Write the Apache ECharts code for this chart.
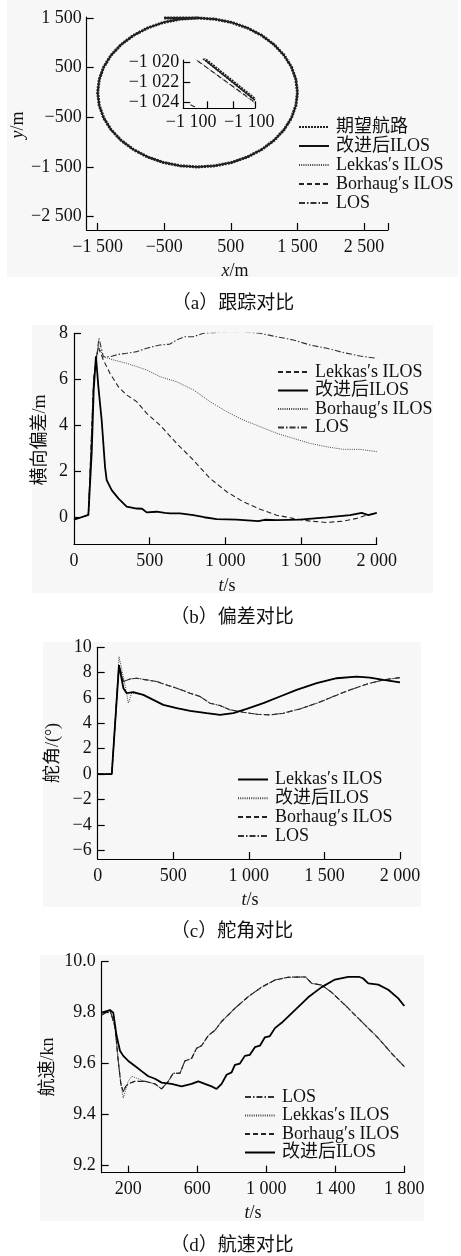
<!DOCTYPE html>
<html><head><meta charset="utf-8">
<script src="https://cdn.jsdelivr.net/npm/echarts@6/dist/echarts.min.js"></script>
<style>html,body{margin:0;padding:0;background:#fff}#c{width:461px;height:1256px}</style>
</head><body><div id="c"></div>
<script>
// ---------- (a) tracking ----------
const trackX = [-500, 0, 260, 513, 750, 964, 1149, 1299, 1410, 1477, 1500, 1477, 1410, 1299, 1149, 964, 750, 513, 260, 0, -260, -513, -750, -964, -1149, -1299, -1410, -1477, -1500, -1477, -1410, -1299, -1149, -964, -750, -513, -260, 0];
const trackY = [1500, 1500, 1477, 1410, 1299, 1149, 964, 750, 513, 260, 0, -260, -513, -750, -964, -1149, -1299, -1410, -1477, -1500, -1477, -1410, -1299, -1149, -964, -750, -513, -260, 0, 260, 513, 750, 964, 1149, 1299, 1410, 1477, 1500];
const aXTicks = [-1500, -500, 500, 1500, 2500];
const aYTicks = [-2500, -1500, -500, 500, 1500];
// inset (zoomed) segment
const insDesX = [0.28, 1.0], insDesY = [-1019.6, -1023.75];
const insImpX = [0.30, 1.0], insImpY = [-1019.8, -1023.85];
const insLekX = [0.17, 1.0], insLekY = [-1019.7, -1024.15];
const insBorX = [0.20, 1.0], insBorY = [-1019.9, -1024.05];
const insLosX = [0.10, 0.20], insLosY = [-1024.3, -1024.65];
const insYTicks = [-1024, -1022, -1020];
const insXLabel = '−1 100';

// ---------- (b) cross-track error ----------
const bImpT = [0, 50, 95, 101, 117, 130, 145, 161, 183, 205, 216, 249, 293, 348, 414, 450, 480, 546, 600, 634, 700, 789, 860, 943, 1075, 1218, 1260, 1339, 1493, 1670, 1824, 1901, 1945, 2000];
const bImpV = [-0.12, -0.02, 0.08, 0.1, 2.8, 5.5, 7.0, 5.67, 4.2, 2.18, 1.6, 1.16, 0.8, 0.44, 0.36, 0.35, 0.19, 0.22, 0.17, 0.15, 0.15, 0.07, -0.02, -0.1, -0.12, -0.19, -0.13, -0.15, -0.12, -0.03, 0.07, 0.17, 0.07, 0.17];
const bLekT = [0, 95, 101, 130, 160, 194, 238, 293, 348, 414, 480, 568, 678, 789, 899, 1009, 1119, 1229, 1339, 1449, 1559, 1670, 1780, 1868, 1934, 2000];
const bLekV = [-0.12, 0.08, 0.1, 6.0, 7.4, 6.84, 6.25, 5.67, 5.31, 5.02, 4.51, 4.0, 3.2, 2.47, 1.67, 1.09, 0.65, 0.33, 0.07, -0.07, -0.19, -0.25, -0.19, -0.07, 0.07, 0.17];
const bBorT = [0, 95, 101, 130, 160, 194, 260, 348, 414, 480, 568, 678, 789, 899, 1009, 1119, 1229, 1339, 1449, 1559, 1670, 1780, 1890, 2000];
const bBorV = [-0.12, 0.08, 0.1, 6.0, 7.5, 6.98, 6.84, 6.69, 6.55, 6.4, 6.11, 5.89, 5.53, 5.02, 4.58, 4.22, 3.93, 3.64, 3.42, 3.2, 3.05, 2.94, 2.94, 2.84];
const bLosT = [0, 95, 101, 130, 165, 194, 238, 293, 348, 414, 480, 568, 634, 678, 733, 789, 855, 921, 1009, 1119, 1229, 1339, 1449, 1559, 1670, 1780, 1890, 2000];
const bLosV = [-0.12, 0.08, 0.1, 6.0, 7.78, 6.98, 6.98, 7.08, 7.13, 7.2, 7.35, 7.49, 7.53, 7.71, 7.85, 7.85, 8.0, 8.03, 8.07, 8.07, 8.0, 7.85, 7.71, 7.49, 7.35, 7.16, 7.01, 6.91];
const bYTicks = [0, 2, 4, 6, 8];

// ---------- (c) rudder angle ----------
const cLekT = [0, 93, 141, 170, 192, 236, 302, 368, 434, 523, 611, 721, 809, 897, 986, 1096, 1206, 1316, 1449, 1581, 1713, 1801, 1890, 2000];
const cLekV = [0, 0, 8.6, 6.77, 6.38, 6.46, 6.25, 5.85, 5.46, 5.2, 4.99, 4.8, 4.67, 4.8, 5.14, 5.59, 6.12, 6.64, 7.17, 7.56, 7.69, 7.61, 7.43, 7.24];
const cImpT = [0, 93, 141, 176, 203, 225, 236, 302, 368, 434, 523, 611, 721, 809, 897, 986, 1096, 1206, 1316, 1449, 1581, 1713, 1801, 1890, 2000];
const cImpV = [0, 0, 9.27, 7.3, 5.59, 6.4, 6.46, 6.25, 5.85, 5.46, 5.2, 4.99, 4.8, 4.67, 4.8, 5.14, 5.59, 6.12, 6.64, 7.17, 7.56, 7.69, 7.61, 7.43, 7.24];
const cLosT = [0, 93, 141, 170, 214, 258, 324, 390, 456, 523, 611, 677, 743, 809, 875, 964, 1052, 1140, 1228, 1338, 1449, 1559, 1669, 1779, 1890, 2000];
const cLosV = [0, 0, 8.6, 7.3, 7.5, 7.56, 7.43, 7.3, 7.03, 6.77, 6.38, 6.12, 5.59, 5.41, 5.07, 4.88, 4.72, 4.67, 4.8, 5.14, 5.59, 6.12, 6.64, 7.09, 7.43, 7.61];
const cYTicks = [-6, -4, -2, 0, 2, 4, 6, 8, 10];

// ---------- (d) speed ----------
const dImpT = [46, 94, 103, 113, 132, 152, 171, 200, 239, 277, 316, 355, 393, 451, 509, 567, 606, 644, 683, 712, 741, 770, 799, 818, 847, 876, 905, 934, 963, 992, 1021, 1050, 1089, 1166, 1243, 1321, 1398, 1475, 1540, 1560, 1591, 1649, 1707, 1765, 1800];
const dImpV = [9.80, 9.81, 9.815, 9.80, 9.71, 9.65, 9.63, 9.61, 9.59, 9.57, 9.55, 9.54, 9.525, 9.52, 9.51, 9.52, 9.53, 9.52, 9.51, 9.50, 9.52, 9.556, 9.565, 9.595, 9.60, 9.63, 9.634, 9.664, 9.67, 9.703, 9.708, 9.739, 9.76, 9.81, 9.86, 9.90, 9.93, 9.94, 9.94, 9.935, 9.915, 9.91, 9.89, 9.856, 9.826];
const dLosT = [46, 94, 103, 123, 142, 157, 171, 185, 200, 239, 297, 355, 393, 432, 461, 500, 528, 567, 596, 625, 664, 702, 741, 818, 896, 973, 1050, 1127, 1205, 1228, 1263, 1321, 1378, 1456, 1552, 1649, 1726, 1800];
const dLosV = [9.79, 9.81, 9.81, 9.745, 9.61, 9.52, 9.49, 9.51, 9.52, 9.53, 9.53, 9.52, 9.50, 9.53, 9.562, 9.562, 9.61, 9.62, 9.66, 9.67, 9.71, 9.73, 9.765, 9.817, 9.863, 9.90, 9.928, 9.939, 9.94, 9.94, 9.915, 9.908, 9.88, 9.83, 9.765, 9.70, 9.64, 9.588];
const dLekT = [46, 94, 103, 123, 142, 157, 171, 200, 220, 239, 277, 297, 355, 393, 432, 461, 500, 528, 567, 596, 625, 664, 702, 741, 818, 896, 973, 1050, 1127, 1205, 1228, 1263, 1321, 1378, 1456, 1552, 1649, 1726, 1800];
const dLekV = [9.79, 9.81, 9.81, 9.745, 9.61, 9.52, 9.464, 9.53, 9.55, 9.545, 9.535, 9.53, 9.52, 9.50, 9.53, 9.562, 9.562, 9.61, 9.62, 9.66, 9.67, 9.71, 9.73, 9.765, 9.817, 9.863, 9.90, 9.928, 9.939, 9.94, 9.94, 9.915, 9.908, 9.88, 9.83, 9.765, 9.70, 9.64, 9.588];
const dXTicks = [200, 600, 1000, 1400, 1800];
const dYTicks = [9.2, 9.4, 9.6, 9.8, 10.0];

const NAMES = {des: '期望航路', imp: '改进后ILOS', lek: 'Lekkas′s ILOS', bor: 'Borhaug′s ILOS', los: 'LOS'};

// ---------- helpers ----------
const FONT = '"Liberation Serif", "Noto Sans CJK SC", serif';
const zip = (xs, ys) => xs.map((x, i) => [x, ys[i]]);
function fmtNum(v) {
  const neg = v < 0; const a = Math.abs(v);
  const s = String(Math.round(a));
  const t = a >= 1000 ? s.slice(0, s.length - 3) + ' ' + s.slice(-3) : s;
  return (neg ? '−' : '') + t;
}
const LS = {
  solid: {type: 'solid', width: 1.3, color: '#111'},
  solidThick: {type: 'solid', width: 1.8, color: '#000'},
  dotted: {type: [1, 1.2], width: 1, color: '#444'},
  dashed: {type: [5, 3], width: 1.1, color: '#222'},
  dashdot: {type: [6, 2, 1.5, 2], width: 1.1, color: '#333'},
  thickDot: {type: [2, 1], width: 3, color: '#222'}
};
function ser(name, gi, data, ls, z) {
  return {type: 'line', name: name, xAxisIndex: gi, yAxisIndex: gi, data: data, symbol: 'none',
    lineStyle: ls, itemStyle: {color: ls.color}, color: ls.color, animation: false, z: z || 2, clip: true};
}
const axisCommon = {
  axisLine: {onZero: false, lineStyle: {color: '#000', width: 1.2}},
  axisTick: {inside: true, length: 7, lineStyle: {color: '#000', width: 1.2}},
  splitLine: {show: false},
  axisLabel: {color: '#111', fontFamily: FONT, fontSize: 18}
};
function xAx(gi, min, max, ticks, labels, fmt, margin) {
  return Object.assign({}, axisCommon, {
    type: 'value', gridIndex: gi, min: min, max: max,
    axisTick: Object.assign({}, axisCommon.axisTick, {customValues: ticks}),
    axisLabel: Object.assign({}, axisCommon.axisLabel, {customValues: labels, formatter: fmt || fmtNum, margin: margin || 7})
  });
}
function yAx(gi, min, max, ticks, labels, fmt, margin) {
  return Object.assign({}, axisCommon, {
    type: 'value', gridIndex: gi, min: min, max: max,
    axisTick: Object.assign({}, axisCommon.axisTick, {customValues: ticks}),
    axisLabel: Object.assign({}, axisCommon.axisLabel, {customValues: labels, formatter: fmt || fmtNum, margin: margin || 5})
  });
}
function txt(x, y, text, size, rot, rich) {
  return {type: 'text', x: x, y: y, rotation: rot || 0, z: 10,
    style: {text: text, fill: '#111', font: size + 'px ' + FONT, fontSize: size, fontFamily: FONT,
      textAlign: 'center', textVerticalAlign: 'middle', align: 'center', verticalAlign: 'middle', rich: rich}};
}
const italRich = {i: {fontStyle: 'italic', fontFamily: FONT, fontSize: 18, fill: '#111'}};
function rect(x, y, w, h) {
  return {type: 'rect', shape: {x: x, y: y, width: w, height: h}, style: {fill: '#f7f7f7'}, z: -10, silent: true};
}
function legend(left, top, gap, names) {
  return {orient: 'vertical', left: left, top: top, itemWidth: 30, itemHeight: 12, itemGap: gap,
    data: names, formatter: n => n.split('#')[1], padding: 0,
    itemStyle: {opacity: 0, borderWidth: 0},
    textStyle: {fontFamily: FONT, fontSize: 18, color: '#111', padding: [0, 0, 0, 2]}, selectedMode: false};
}

const option = {
  animation: false,
  backgroundColor: '#fff',
  grid: [
    {left: 86.7, top: 17, width: 301.3, height: 213},
    {left: 183.3, top: 60, width: 71.7, height: 48.3},
    {left: 74, top: 333.3, width: 302.7, height: 211},
    {left: 97.7, top: 647.3, width: 302.3, height: 211.7},
    {left: 101.7, top: 961.7, width: 302.6, height: 211}
  ],
  xAxis: [
    xAx(0, -1665, 2860, aXTicks.concat([2860]), aXTicks, fmtNum, 8),
    xAx(1, 0, 1, [0.33, 0.7, 1], [0.11, 0.92], () => insXLabel, 5),
    xAx(2, 0, 2000, [500, 1000, 1500, 2000], [0, 500, 1000, 1500, 2000], fmtNum, 8),
    xAx(3, 0, 2000, [500, 1000, 1500, 2000], [0, 500, 1000, 1500, 2000], fmtNum, 8),
    xAx(4, 46, 1800, dXTicks, dXTicks, fmtNum, 8)
  ],
  yAxis: [
    yAx(0, -2770, 1520, aYTicks, aYTicks, fmtNum, 5),
    yAx(1, -1024.65, -1019.8, insYTicks, insYTicks, fmtNum, 4),
    yAx(2, -1.2, 8, bYTicks, bYTicks, fmtNum, 6),
    yAx(3, -6.7, 10, cYTicks, cYTicks, fmtNum, 6),
    yAx(4, 9.171, 10.0, dYTicks, dYTicks, v => v.toFixed(1), 6)
  ],
  legend: [
    legend(298, 118, 1, ['a#' + NAMES.des, 'a#' + NAMES.imp, 'a#' + NAMES.lek, 'a#' + NAMES.bor, 'a#' + NAMES.los]),
    legend(277, 363, 0.5, ['b#' + NAMES.lek, 'b#' + NAMES.imp, 'b#' + NAMES.bor, 'b#' + NAMES.los]),
    legend(237, 770.5, 0.8, ['c#' + NAMES.lek, 'c#' + NAMES.imp, 'c#' + NAMES.bor, 'c#' + NAMES.los]),
    legend(244, 1088, 0.5, ['d#' + NAMES.los, 'd#' + NAMES.lek, 'd#' + NAMES.bor, 'd#' + NAMES.imp])
  ],
  series: [
    // (a)
    ser('a#' + NAMES.lek, 0, zip(trackX, trackY), LS.dotted),
    ser('a#' + NAMES.bor, 0, zip(trackX, trackY), LS.dashed),
    ser('a#' + NAMES.los, 0, zip(trackX, trackY), LS.dashdot),
    ser('a#' + NAMES.imp, 0, zip(trackX, trackY), LS.solid),
    ser('a#' + NAMES.des, 0, zip(trackX, trackY), LS.thickDot, 3),
    // inset
    ser('i#' + NAMES.lek, 1, zip(insLekX, insLekY), LS.dotted),
    ser('i#' + NAMES.bor, 1, zip(insBorX, insBorY), LS.dashed),
    ser('i#' + NAMES.los, 1, zip(insLosX, insLosY), LS.dashed),
    ser('i#' + NAMES.imp, 1, zip(insImpX, insImpY), LS.solid),
    ser('i#' + NAMES.des, 1, zip(insDesX, insDesY), LS.thickDot, 3),
    // (b)
    ser('b#' + NAMES.lek, 2, zip(bLekT, bLekV), LS.dashed),
    ser('b#' + NAMES.imp, 2, zip(bImpT, bImpV), LS.solidThick, 3),
    ser('b#' + NAMES.bor, 2, zip(bBorT, bBorV), LS.dotted),
    ser('b#' + NAMES.los, 2, zip(bLosT, bLosV), LS.dashdot),
    // (c)
    ser('c#' + NAMES.lek, 3, zip(cLekT, cLekV), LS.solidThick, 3),
    ser('c#' + NAMES.imp, 3, zip(cImpT, cImpV), LS.dotted),
    ser('c#' + NAMES.bor, 3, zip(cLosT, cLosV), LS.dashed),
    ser('c#' + NAMES.los, 3, zip(cLosT, cLosV), LS.dashdot),
    // (d)
    ser('d#' + NAMES.los, 4, zip(dLosT, dLosV), LS.dashdot),
    ser('d#' + NAMES.lek, 4, zip(dLekT, dLekV), LS.dotted),
    ser('d#' + NAMES.bor, 4, zip(dLosT, dLosV), LS.dashed),
    ser('d#' + NAMES.imp, 4, zip(dImpT, dImpV), LS.solidThick, 3)
  ],
  graphic: [
    rect(7, 0, 451, 277), rect(32, 325, 401, 268), rect(43, 642, 378, 265), rect(40, 955, 384, 266),
    txt(235, 271, '{i|x}/m', 18, 0, italRich),
    txt(18, 125, '{i|y}/m', 18, Math.PI / 2, italRich),
    txt(233, 304, '（a）跟踪对比', 19),
    txt(227, 586, '{i|t}/s', 18, 0, italRich),
    txt(40, 440, '横向偏差/m', 18, Math.PI / 2),
    txt(232, 618, '（b）偏差对比', 19),
    txt(250, 900, '{i|t}/s', 18, 0, italRich),
    txt(53, 753, '舵角/(°)', 18, Math.PI / 2),
    txt(232, 932, '（c）舵角对比', 19),
    txt(253, 1213, '{i|t}/s', 18, 0, italRich),
    txt(48, 1067, '航速/kn', 18, Math.PI / 2),
    txt(232, 1246, '（d）航速对比', 19)
  ]
};
const chart = echarts.init(document.getElementById('c'), null, {renderer: 'canvas'});
chart.setOption(option);
</script></body></html>
